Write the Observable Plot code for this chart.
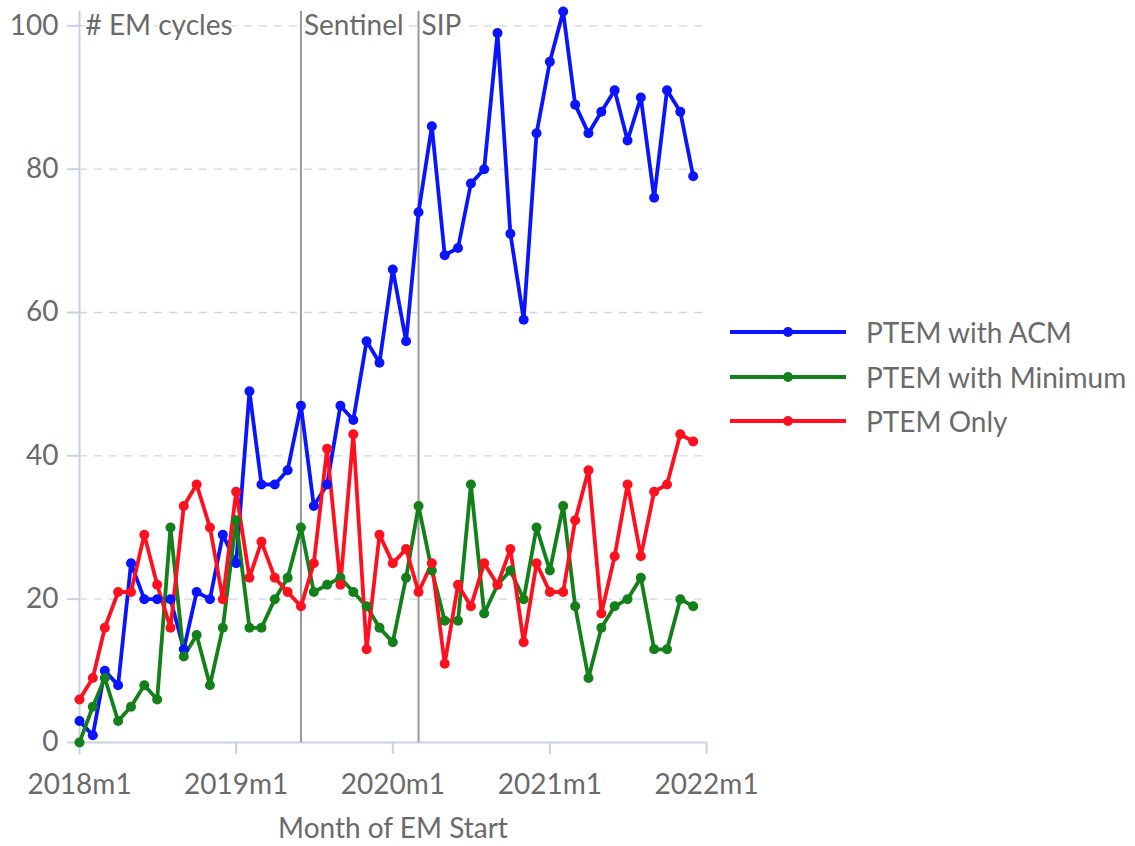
<!DOCTYPE html>
<html>
<head>
<meta charset="utf-8">
<script src="https://cdn.jsdelivr.net/npm/d3@7"></script>
<script src="https://cdn.jsdelivr.net/npm/@observablehq/plot@0.6"></script>
<style>
  html, body { margin: 0; padding: 0; background: #fff; }
  #wrap { position: relative; width: 1135px; height: 846px; font-family: Lato, "Open Sans", sans-serif; }
  #legend { position: absolute; left: 730px; top: 310px; }
  .item { display: flex; align-items: center; height: 44.5px; }
  .item span { margin-left: 20px; font-size: 28px; color: #6a6a6a; white-space: nowrap; }
</style>
</head>
<body>
<div id="wrap"><div id="legend"></div></div>
<script>
// Months 2018m1 .. 2021m12
const months = d3.utcMonths(new Date(Date.UTC(2018, 0, 1)), new Date(Date.UTC(2022, 0, 1)));

const seriesNames = ["PTEM with ACM", "PTEM with Minimum", "PTEM Only"];
const seriesColors = ["#0a14ff", "#13801a", "#ff101e"];

const acm = [3, 1, 10, 8, 25, 20, 20, 20, 13, 21, 20, 29,
             25, 49, 36, 36, 38, 47, 33, 36, 47, 45, 56, 53,
             66, 56, 74, 86, 68, 69, 78, 80, 99, 71, 59, 85,
             95, 102, 89, 85, 88, 91, 84, 90, 76, 91, 88, 79];
const minimum = [0, 5, 9, 3, 5, 8, 6, 30, 12, 15, 8, 16,
                 31, 16, 16, 20, 23, 30, 21, 22, 23, 21, 19, 16,
                 14, 23, 33, 24, 17, 17, 36, 18, 22, 24, 20, 30,
                 24, 33, 19, 9, 16, 19, 20, 23, 13, 13, 20, 19];
const only = [6, 9, 16, 21, 21, 29, 22, 16, 33, 36, 30, 20,
              35, 23, 28, 23, 21, 19, 25, 41, 22, 43, 13, 29,
              25, 27, 21, 25, 11, 22, 19, 25, 22, 27, 14, 25,
              21, 21, 31, 38, 18, 26, 36, 26, 35, 36, 43, 42];
const seriesValues = [acm, minimum, only];

const yTicks = [0, 20, 40, 60, 80, 100];
const gridTicks = [20, 40, 60, 80, 100];
const xTicks = d3.utcYears(new Date(Date.UTC(2018, 0, 1)), new Date(Date.UTC(2022, 0, 2)));

const events = [
  {label: "Sentinel", date: new Date(Date.UTC(2019, 5, 1))},
  {label: "SIP", date: new Date(Date.UTC(2020, 2, 1))}
];

const rows = [];
seriesNames.forEach((name, s) => {
  seriesValues[s].forEach((v, i) => rows.push({series: name, date: months[i], value: v}));
});

const colorScale = {domain: seriesNames, range: seriesColors};
const startDate = xTicks[0];
const endDate = xTicks[xTicks.length - 1];
const textColor = "#6a6a6a";

const chart = Plot.plot({
  width: 1135,
  height: 846,
  marginLeft: 79,
  marginRight: 429,
  marginTop: 11,
  marginBottom: 104,
  style: {fontFamily: "Lato, 'Open Sans', sans-serif", fontSize: "28px", color: textColor, background: "white"},
  x: {type: "utc", domain: [startDate, endDate]},
  y: {domain: [0, 102]},
  color: colorScale,
  marks: [
    Plot.gridY(gridTicks, {stroke: "#cdd6e8", strokeOpacity: 1, strokeDasharray: "8,7", strokeWidth: 1.3}),
    Plot.ruleX([startDate], {stroke: "#c8d0e2", strokeWidth: 2}),
    Plot.ruleY([0], {stroke: "#c8d0e2", strokeWidth: 2}),
    Plot.ruleX(events, {x: "date", stroke: "#999", strokeWidth: 2}),
    Plot.axisY(yTicks, {tickSize: 12, tickPadding: 9, stroke: "#c8d0e2", fill: textColor, label: null, fontSize: 28, strokeWidth: 2}),
    Plot.axisX(xTicks, {tickSize: 12, tickPadding: 20, stroke: "#c8d0e2", fill: textColor, label: null, fontSize: 28, strokeWidth: 2,
      tickFormat: d => d.getUTCFullYear() + "m1"}),
    Plot.text(["Month of EM Start"], {frameAnchor: "bottom", lineAnchor: "middle", dy: 87, fill: textColor, fontSize: 28}),
    Plot.text(["# EM cycles"], {x: () => startDate, y: () => 100, textAnchor: "start", dx: 6, fill: textColor, fontSize: 28, stroke: "white", strokeWidth: 4}),
    Plot.text(events, {x: "date", y: () => 100, text: "label", textAnchor: "start", dx: 3, fill: textColor, fontSize: 28, stroke: "white", strokeWidth: 4}),
    Plot.line(rows, {x: "date", y: "value", z: "series", stroke: "series", strokeWidth: 3.8}),
    Plot.dot(rows, {x: "date", y: "value", fill: "series", r: 5})
  ]
});
document.getElementById("wrap").prepend(chart);

// Legend
const legend = d3.select("#legend");
seriesNames.forEach((name, i) => {
  const item = legend.append("div").attr("class", "item");
  const svg = item.append("svg").attr("width", 116).attr("height", 20);
  svg.append("line").attr("x1", 0).attr("x2", 116).attr("y1", 10).attr("y2", 10)
    .attr("stroke", seriesColors[i]).attr("stroke-width", 3.8);
  svg.append("circle").attr("cx", 58).attr("cy", 10).attr("r", 5).attr("fill", seriesColors[i]);
  item.append("span").text(name);
});
</script>
</body>
</html>
